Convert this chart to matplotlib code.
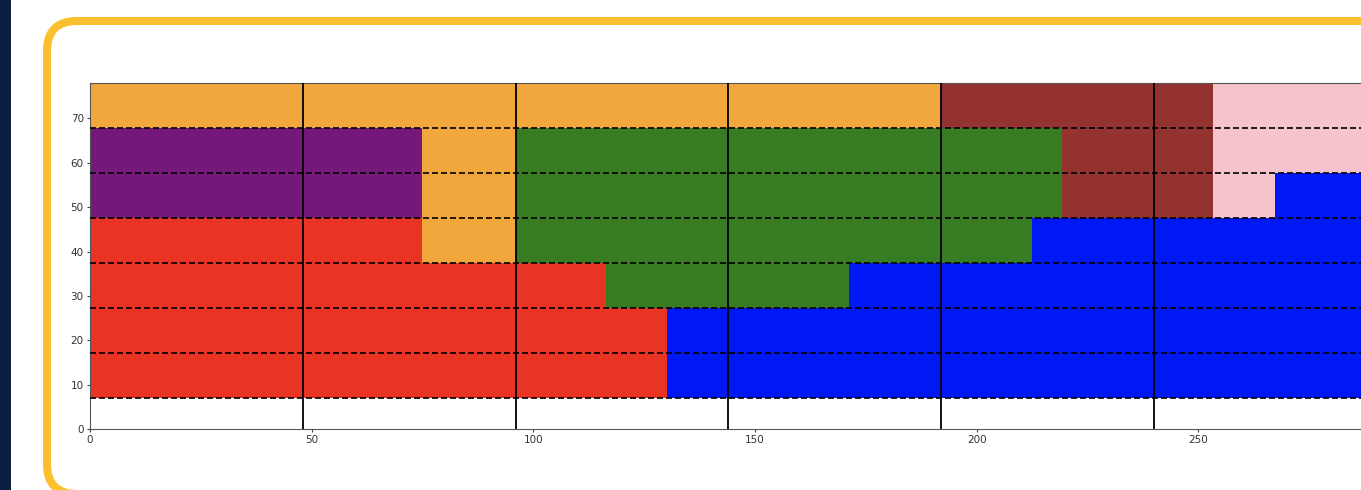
import matplotlib
matplotlib.use('Agg')
from matplotlib import pyplot as plt
from matplotlib.patches import FancyBboxPatch, Rectangle


# time axis: 6 slots of 48 units each
x_max = 288
slot = 48

# seven stacked rows between y=7 and y=78
row_bottom = 7
row_top = 78
n_rows = 7

# per row (bottom to top): where the colour changes, and the colours in order
row_breaks = [
    [130.2],
    [130.2],
    [116.4, 171.3],
    [75, 96, 212.5],
    [75, 96, 219.3, 253.4, 267.4],
    [75, 96, 219.3, 253.4],
    [192, 253.4],
]
row_colors = [
    ['red', 'blue'],
    ['red', 'blue'],
    ['red', 'green', 'blue'],
    ['red', 'orange', 'green', 'blue'],
    ['purple', 'orange', 'green', 'brown', 'pink', 'blue'],
    ['purple', 'orange', 'green', 'brown', 'pink'],
    ['orange', 'brown', 'pink'],
]

palette = {
    'red': '#E93323',
    'blue': '#0019F4',
    'green': '#377B22',
    'orange': '#F2A73C',
    'purple': '#74197A',
    'brown': '#943230',
    'pink': '#F5C3CB',
}

W, H = 1361, 490
fig = plt.figure(figsize=(W / 100, H / 100), dpi=100)

# page background in pixel units (y up), larger than the figure so the
# rounded yellow frame can run off the right and bottom edges
bg_w, bg_h = 1500, 540
bg = fig.add_axes([0, 1 - bg_h / H, bg_w / W, bg_h / H], zorder=0)
bg.set_xlim(0, bg_w)
bg.set_ylim(0, bg_h)
bg.axis('off')
bg.add_patch(Rectangle((0, 0), 11, bg_h, color='#0B1F42', lw=0))
frame_top, frame_bottom = 21, 494   # measured from the top of the page
bg.add_patch(FancyBboxPatch((47, bg_h - frame_bottom), 1400,
                            frame_bottom - frame_top,
                            boxstyle='round,pad=0,rounding_size=30',
                            fill=False, ec='#FBC02D', lw=5.8))

ax = fig.add_axes([90 / W, 61 / H, (288 * 4.433) / W, 346 / H], zorder=1)

row_h = (row_top - row_bottom) / n_rows
for i, (breaks, colors) in enumerate(zip(row_breaks, row_colors)):
    edges = [0] + breaks + [x_max]
    y0 = row_bottom + i * row_h
    spans = [(edges[k], edges[k + 1] - edges[k]) for k in range(len(colors))]
    ax.broken_barh(spans, (y0, row_h),
                   facecolors=[palette[c] for c in colors], lw=0)

# row separators
for i in range(n_rows):
    ax.axhline(row_bottom + i * row_h, color='black', lw=1.2,
               linestyle=(0, (3.6, 1.8)), zorder=3)

# slot boundaries
for x in range(slot, x_max, slot):
    ax.axvline(x, color='black', lw=1.3, zorder=3)

ax.set_xlim(0, x_max)
ax.set_ylim(0, row_top)
ax.set_xticks([0, 50, 100, 150, 200, 250])
ax.set_yticks([0, 10, 20, 30, 40, 50, 60, 70])
ax.tick_params(labelsize=7.5, length=2.5, width=0.8, colors='#444',
               labelcolor='#333', pad=2)
for s in ax.spines.values():
    s.set_color('#555')
    s.set_linewidth(0.8)

fig.savefig('out.png', dpi=100)
